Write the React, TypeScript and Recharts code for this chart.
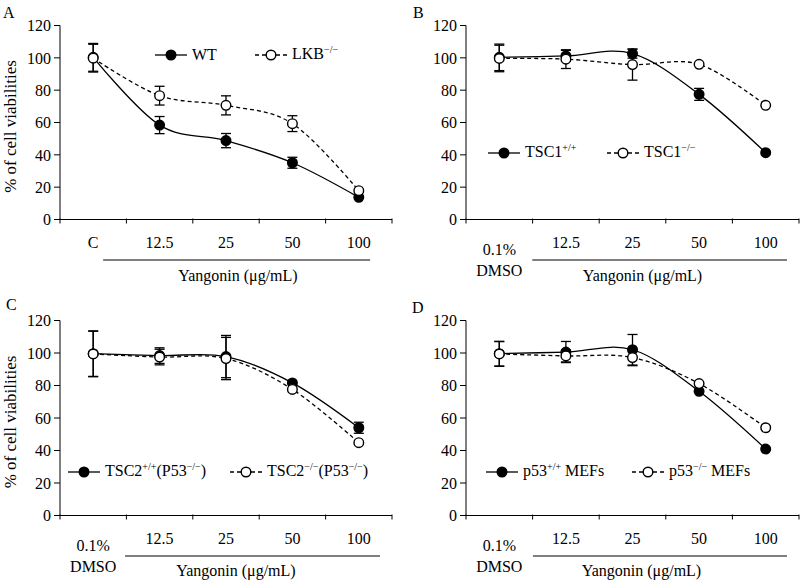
import React from 'react';
import { LineChart, Line, XAxis, YAxis, ErrorBar, Legend, Label } from 'recharts';

const FONT = '"Liberation Serif", "Times New Roman", serif';

// ---------- shared tick labels ----------
const yTicks = [0, 20, 40, 60, 80, 100, 120];
const doseLabels = ['12.5', '25', '50', '100'];
const categoriesA = [['C'], ...doseLabels.map((d) => [d])];
const categoriesDMSO = [['0.1%', 'DMSO'], ...doseLabels.map((d) => [d])];
const axisTitle = 'Yangonin (μg/mL)';
const yTitle = '% of cell viabilities';

// ---------- Panel A ----------
const aWT = [100.3, 58.4, 48.8, 35.1, 13.7];
const aWTErr = [8.6, 5.3, 4.4, 3.4, 0];
const aLKB = [99.8, 76.6, 70.6, 59.3, 17.8];
const aLKBErr = [8.6, 5.8, 5.9, 4.9, 0];
const aNames = ['WT', 'LKB^{−/−}'];

// ---------- Panel B ----------
const bPos = [100.3, 101.2, 102.6, 77.4, 41.3];
const bPosErr = [8.2, 3.4, 2.8, 3.7, 0];
const bNeg = [99.6, 99.2, 95.8, 96.0, 70.6];
const bNegErr = [8.2, 5.8, 9.6, 0, 0];
const bNames = ['TSC1^{+/+}', 'TSC1^{−/−}'];

// ---------- Panel C ----------
const cPos = [99.6, 98.4, 97.8, 81.6, 54.0];
const cPosErr = [14.0, 4.8, 13.0, 0, 3.4];
const cNeg = [99.4, 97.5, 96.6, 77.6, 44.8];
const cNegErr = [14.0, 4.8, 13.0, 0, 0];
const cNames = ['TSC2^{+/+}(P53^{−/−})', 'TSC2^{−/−}(P53^{−/−})'];

// ---------- Panel D ----------
const dPos = [99.6, 100.6, 102.0, 76.4, 40.9];
const dPosErr = [7.6, 6.5, 9.4, 0, 0];
const dNeg = [99.4, 98.2, 97.2, 81.2, 54.0];
const dNegErr = [7.6, 3.7, 5.0, 0, 0];
const dNames = ['p53^{+/+} MEFs', 'p53^{−/−} MEFs'];

// Catmull-Rom style smoothing (like spreadsheet "smoothed line")
function smoothCurve(context: any) {
  const k = 1 / 6;
  let line = NaN;
  let pt = 0;
  let x0 = NaN, x1 = NaN, x2 = NaN, y0 = NaN, y1 = NaN, y2 = NaN;
  const seg = (x: number, y: number) => {
    context.bezierCurveTo(
      x1 + k * (x2 - x0),
      y1 + k * (y2 - y0),
      x2 + k * (x1 - x),
      y2 + k * (y1 - y),
      x2,
      y2
    );
  };
  return {
    areaStart() { line = 0; },
    areaEnd() { line = NaN; },
    lineStart() { x0 = x1 = x2 = y0 = y1 = y2 = NaN; pt = 0; },
    lineEnd() {
      if (pt === 2) context.lineTo(x2, y2);
      else if (pt === 3) seg(x1, y1);
      if (line || (line !== 0 && pt === 1)) context.closePath();
      line = 1 - line;
    },
    point(x: number, y: number) {
      x = +x; y = +y;
      if (pt === 0) { pt = 1; if (line) context.lineTo(x, y); else context.moveTo(x, y); }
      else if (pt === 1) { pt = 2; x1 = x; y1 = y; }
      else { if (pt === 2) pt = 3; seg(x, y); }
      x0 = x1; x1 = x2; x2 = x;
      y0 = y1; y1 = y2; y2 = y;
    },
  };
}

function buildRows(cats: string[][], s1: number[], e1: number[], s2: number[], e2: number[]) {
  return cats.map((c, i) => ({
    x: i + 0.5,
    s1: s1[i],
    e1: e1[i] || null,
    s2: s2[i],
    e2: e2[i] || null,
  }));
}

function renderRich(label: string) {
  const parts = label.split(/(\^\{[^}]*\})/).filter((p) => p.length > 0);
  return parts.map((p, i) =>
    p.startsWith('^{') ? (
      <span key={i} style={{ fontSize: 10, position: 'relative', top: -6 }}>
        {p.slice(2, -1)}
      </span>
    ) : (
      <span key={i}>{p}</span>
    )
  );
}

type PanelProps = {
  letter: string;
  left: number;
  top: number;
  cats: string[][];
  s1: number[];
  e1: number[];
  s2: number[];
  e2: number[];
  names: string[];
  showYTitle: boolean;
  plotLeft: number;
  marginRight: number;
  marginTop: number;
  marginBottom: number;
  legendY: number;
  legendX: number[];
  underline: [number, number];
  titleFrac: number;
  titleDy: number;
  letterX: number;
  letterY: number;
};

const AXIS_H = 1;

function Panel(p: PanelProps) {
  const rows = buildRows(p.cats, p.s1, p.e1, p.s2, p.e2);
  const xTicks: number[] = [];
  for (let i = 0; i <= p.cats.length * 2; i++) xTicks.push(i / 2);

  const XTick = (props: any) => {
    const { x, payload } = props;
    const y = props.y - AXIS_H;
    const v = payload.value;
    if (Number.isInteger(v)) {
      return <line x1={x} x2={x} y1={y} y2={y + 5} stroke="#000" strokeWidth={1} />;
    }
    const lines = p.cats[Math.floor(v)];
    if (lines.length === 1) {
      return (
        <text x={x} y={y + 29} textAnchor="middle" fontFamily={FONT} fontSize={16} fill="#000">
          {lines[0]}
        </text>
      );
    }
    return (
      <text textAnchor="middle" fontFamily={FONT} fontSize={16} fill="#000">
        <tspan x={x} y={y + 36}>{lines[0]}</tspan>
        <tspan x={x} y={y + 57}>{lines[1]}</tspan>
      </text>
    );
  };

  const XTitle = (props: any) => {
    const vb = props.viewBox;
    const x1 = vb.x + vb.width * p.underline[0];
    const x2 = vb.x + vb.width * p.underline[1];
    return (
      <g>
        <line x1={x1} x2={x2} y1={vb.y + 40.5} y2={vb.y + 40.5} stroke="#000" strokeWidth={1.2} />
        <text
          x={vb.x + vb.width * p.titleFrac}
          y={vb.y + p.titleDy}
          textAnchor="middle"
          fontFamily={FONT}
          fontSize={16}
          fill="#000"
        >
          {axisTitle}
        </text>
      </g>
    );
  };

  const LegendBox = () => (
    <div style={{ position: 'relative', width: 400, height: 290, fontFamily: FONT, fontSize: 16, color: '#000' }}>
      {p.names.map((n, i) => (
        <div
          key={n}
          style={{
            position: 'absolute',
            left: p.legendX[i],
            top: p.legendY - 10,
            height: 20,
            display: 'flex',
            alignItems: 'center',
            whiteSpace: 'nowrap',
          }}
        >
          <svg width={32} height={14} style={{ display: 'block' }}>
            <line
              x1={0}
              x2={32}
              y1={7}
              y2={7}
              stroke="#000"
              strokeWidth={1.3}
              strokeDasharray={i === 0 ? undefined : '4 3'}
            />
            <circle cx={16} cy={7} r={4.8} fill={i === 0 ? '#000' : '#fff'} stroke="#000" strokeWidth={1.4} />
          </svg>
          <span style={{ marginLeft: 5, lineHeight: '20px' }}>{renderRich(n)}</span>
        </div>
      ))}
    </div>
  );

  return (
    <div style={{ position: 'absolute', left: p.left, top: p.top, width: 400, height: 290 }}>
      <LineChart
        width={400}
        height={290}
        data={rows}
        margin={{ top: p.marginTop, right: p.marginRight, bottom: p.marginBottom - AXIS_H, left: 0 }}
      >
        <XAxis
          dataKey="x"
          type="number"
          domain={[0, p.cats.length]}
          ticks={xTicks}
          interval={0}
          height={AXIS_H}
          tickSize={0}
          tickMargin={0}
          tickLine={false}
          tick={XTick}
          axisLine={{ stroke: '#000', strokeWidth: 1 }}
          allowDataOverflow
        >
          <Label content={XTitle} />
        </XAxis>
        <YAxis
          type="number"
          domain={[0, 120]}
          ticks={yTicks}
          interval={0}
          width={p.plotLeft}
          tickSize={6}
          tickMargin={3}
          tick={{ fontSize: 16, fill: '#000', fontFamily: FONT }}
          tickLine={{ stroke: '#000' }}
          axisLine={{ stroke: '#000', strokeWidth: 1 }}
          allowDataOverflow
        />
        <Legend
          layout="horizontal"
          verticalAlign="middle"
          align="center"
          content={LegendBox}
          wrapperStyle={{ left: 0, top: 0, width: 400, height: 290, pointerEvents: 'none' }}
        />
        <Line
          dataKey="s1"
          type={smoothCurve as any}
          stroke="#000"
          strokeWidth={1.3}
          dot={{ r: 4.8, fill: '#000', stroke: '#000', strokeWidth: 1.4 }}
          isAnimationActive={false}
        >
          <ErrorBar dataKey="e1" direction="y" width={5} stroke="#000" strokeWidth={1.3} />
        </Line>
        <Line
          dataKey="s2"
          type={smoothCurve as any}
          stroke="#000"
          strokeWidth={1.3}
          strokeDasharray="4 3"
          dot={{ r: 4.8, fill: '#fff', stroke: '#000', strokeWidth: 1.4, strokeDasharray: '' }}
          isAnimationActive={false}
        >
          <ErrorBar dataKey="e2" direction="y" width={5} stroke="#000" strokeWidth={1.3} />
        </Line>
      </LineChart>
      <svg
        width={400}
        height={290}
        style={{ position: 'absolute', left: 0, top: 0, pointerEvents: 'none' }}
      >
        <text x={p.letterX} y={p.letterY} fontFamily={FONT} fontSize={16} fill="#000">
          {p.letter}
        </text>
        {p.showYTitle && (
          <text
            x={16}
            y={p.marginTop + (290 - p.marginTop - p.marginBottom) / 2 + 4}
            transform={`rotate(-90 16 ${p.marginTop + (290 - p.marginTop - p.marginBottom) / 2 + 4})`}
            textAnchor="middle"
            fontFamily={FONT}
            fontSize={17}
            fill="#000"
          >
            {yTitle}
          </text>
        )}
      </svg>
    </div>
  );
}

export default function App() {
  return (
    <div
      style={{
        position: 'absolute',
        left: 0,
        top: 0,
        width: 800,
        height: 580,
        background: '#fff',
        overflow: 'hidden',
      }}
    >
      <Panel
        letter="A"
        left={0}
        top={0}
        cats={categoriesA}
        s1={aWT}
        e1={aWTErr}
        s2={aLKB}
        e2={aLKBErr}
        names={aNames}
        showYTitle
        plotLeft={60}
        marginRight={8}
        marginTop={25.5}
        marginBottom={70.5}
        legendY={55}
        legendX={[155, 255]}
        underline={[0.13, 0.934]}
        titleFrac={0.536}
        titleDy={61.5}
        letterX={3}
        letterY={18}
      />
      <Panel
        letter="B"
        left={400}
        top={0}
        cats={categoriesDMSO}
        s1={bPos}
        e1={bPosErr}
        s2={bNeg}
        e2={bNegErr}
        names={bNames}
        showYTitle={false}
        plotLeft={66}
        marginRight={1}
        marginTop={25.5}
        marginBottom={70.5}
        legendY={153}
        legendX={[88, 207]}
        underline={[0.199, 0.964]}
        titleFrac={0.53}
        titleDy={61.5}
        letterX={13}
        letterY={18}
      />
      <Panel
        letter="C"
        left={0}
        top={290}
        cats={categoriesDMSO}
        s1={cPos}
        e1={cPosErr}
        s2={cNeg}
        e2={cNegErr}
        names={cNames}
        showYTitle
        plotLeft={60}
        marginRight={8}
        marginTop={30.5}
        marginBottom={64.5}
        legendY={182}
        legendX={[68, 230]}
        underline={[0.196, 0.964]}
        titleFrac={0.53}
        titleDy={60}
        letterX={6}
        letterY={20}
      />
      <Panel
        letter="D"
        left={400}
        top={290}
        cats={categoriesDMSO}
        s1={dPos}
        e1={dPosErr}
        s2={dNeg}
        e2={dNegErr}
        names={dNames}
        showYTitle={false}
        plotLeft={66}
        marginRight={1}
        marginTop={30.5}
        marginBottom={64.5}
        legendY={182}
        legendX={[86, 232]}
        underline={[0.201, 0.964]}
        titleFrac={0.527}
        titleDy={60}
        letterX={12}
        letterY={23}
      />
    </div>
  );
}
